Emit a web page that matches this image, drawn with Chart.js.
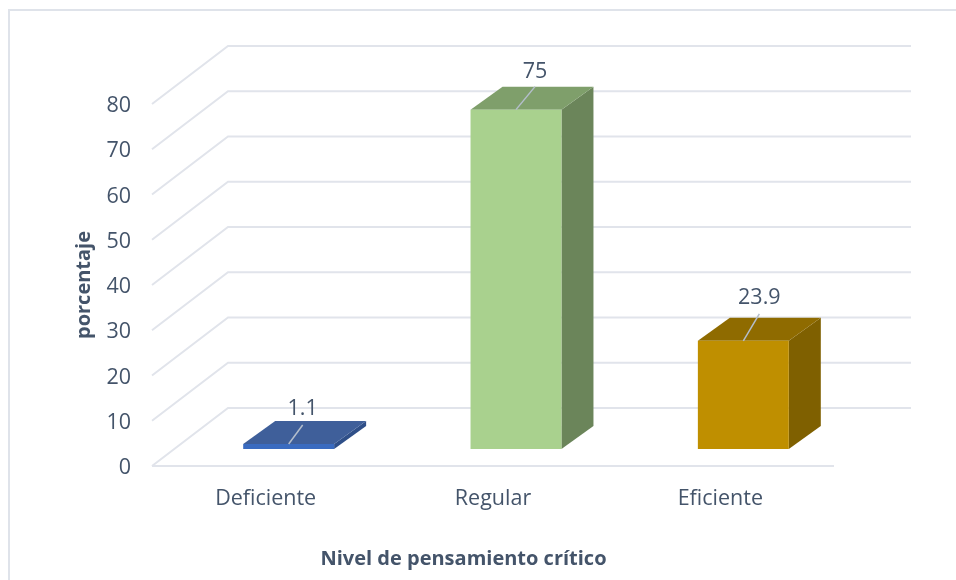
<!DOCTYPE html>
<html><head><meta charset="utf-8">
<style>html,body{margin:0;padding:0;background:#fff}#w{width:956px;height:580px;position:relative}</style>
<script src="https://cdn.jsdelivr.net/npm/chart.js@4"></script></head>
<body><div id="w"><canvas id="c" width="956" height="580"></canvas></div>
<script>
const categories = ['Deficiente', 'Regular', 'Eficiente'];
const values = [1.1, 75, 23.9];
const valueLabels = ['1.1', '75', '23.9'];
const frontColors = ['#3A6BC0', '#A9D18E', '#BF8F00'];
const topColors = ['#3F5F9A', '#7F9F6B', '#8F6B00'];
const sideColors = ['#2F4F88', '#6B855A', '#7F6000'];
const yMin = 0, yMax = 80, yStep = 10;
const xTitle = 'Nivel de pensamiento crítico';
const yTitle = 'porcentaje';
const textColor = '#44546A', gridColor = '#E1E4EB', frameColor = '#DFE3EA';
const fontFamily = '"Open Sans"';
const depthX = 32, depthY = 23;      // bar depth
const wallX = 76, wallY = 58;        // back wall offset
const planeX = 23, planeY = 17;      // bar plane in front of the floor edge
const leaderTip = [[14,-19],[19,-23],[16,-27]];
const labelPos = [[14,-35],[19,-38],[16,-43]];

const scene = {
  id: 'scene',
  beforeDatasetsDraw(chart) {
    const {ctx, scales:{y}, chartArea:a} = chart;
    ctx.save();
    ctx.strokeStyle = frameColor; ctx.lineWidth = 2;
    ctx.beginPath(); ctx.moveTo(9,580); ctx.lineTo(9,10); ctx.lineTo(956,10); ctx.stroke();
    ctx.strokeStyle = gridColor; ctx.lineWidth = 2;
    const x0 = a.left - planeX, xEnd = a.right - planeX + wallX + 1;
    y.ticks.forEach(t => {
      const p = y.getPixelForValue(t.value);
      ctx.beginPath();
      ctx.moveTo(x0, p); ctx.lineTo(x0 + wallX, p - wallY); ctx.lineTo(xEnd, p - wallY);
      ctx.stroke();
    });
    const p0 = y.getPixelForValue(yMin);
    ctx.beginPath(); ctx.moveTo(x0, p0); ctx.lineTo(a.right - planeX, p0); ctx.stroke();
    chart.getDatasetMeta(0).data.forEach((b, i) => {
      const l = b.x - b.width/2, r = b.x + b.width/2, t = b.y, bt = b.base;
      ctx.fillStyle = sideColors[i];
      ctx.beginPath(); ctx.moveTo(r,t); ctx.lineTo(r+depthX,t-depthY); ctx.lineTo(r+depthX,bt-depthY); ctx.lineTo(r,bt); ctx.closePath(); ctx.fill();
      ctx.fillStyle = topColors[i];
      ctx.beginPath(); ctx.moveTo(l,t); ctx.lineTo(l+depthX,t-depthY); ctx.lineTo(r+depthX,t-depthY); ctx.lineTo(r,t); ctx.closePath(); ctx.fill();
    });
    ctx.restore();
  },
  afterDatasetsDraw(chart) {
    const {ctx} = chart;
    ctx.save();
    ctx.font = '21.5px ' + fontFamily; ctx.textAlign = 'center'; ctx.textBaseline = 'middle';
    chart.getDatasetMeta(0).data.forEach((b, i) => {
      ctx.strokeStyle = '#B4BECC'; ctx.lineWidth = 1.5;
      ctx.beginPath(); ctx.moveTo(b.x, b.y); ctx.lineTo(b.x + leaderTip[i][0], b.y + leaderTip[i][1]); ctx.stroke();
      ctx.fillStyle = textColor;
      ctx.fillText(valueLabels[i], b.x + labelPos[i][0], b.y + labelPos[i][1]);
    });
    ctx.restore();
  }
};

const unitsPerPx = (yMax - yMin) / 362;
new Chart(document.getElementById('c'), {
  type: 'bar',
  data: { labels: categories, datasets: [{ data: values, yAxisID: 'yBar',
    backgroundColor: frontColors, categoryPercentage: 1, barPercentage: 0.4 }] },
  plugins: [scene],
  options: {
    responsive: false, animation: false,
    layout: { padding: { top: 104, right: 99, left: 70, bottom: 9 } },
    plugins: {
      legend: { display: false }, tooltip: { enabled: false },
      title: { display: true, position: 'bottom', text: xTitle, color: textColor, padding: 0,
        font: { family: fontFamily, size: 20, weight: 'bold', lineHeight: 1.2 } }
    },
    scales: {
      x: {
        grid: { display: false, drawTicks: false }, border: { display: false },
        ticks: { color: textColor, font: { family: fontFamily, size: 21.5 }, labelOffset: -planeX, padding: 20, maxRotation: 0 },
        afterFit(s) { s.height = 81; }
      },
      y: {
        position: 'left', min: yMin, max: yMax,
        grid: { display: false, drawTicks: false }, border: { display: false },
        ticks: { stepSize: yStep, color: textColor, font: { family: fontFamily, size: 21.5 }, padding: 44, labelOffset: 2 },
        title: { display: true, text: yTitle, color: textColor, padding: { top: 2, bottom: 4 }, font: { family: fontFamily, size: 20, weight: 'bold' } },
        afterFit(s) { s.width = 105; }
      },
      yBar: { display: false, min: yMin - planeY * unitsPerPx, max: yMax - planeY * unitsPerPx }
    }
  }
});
</script></body></html>
